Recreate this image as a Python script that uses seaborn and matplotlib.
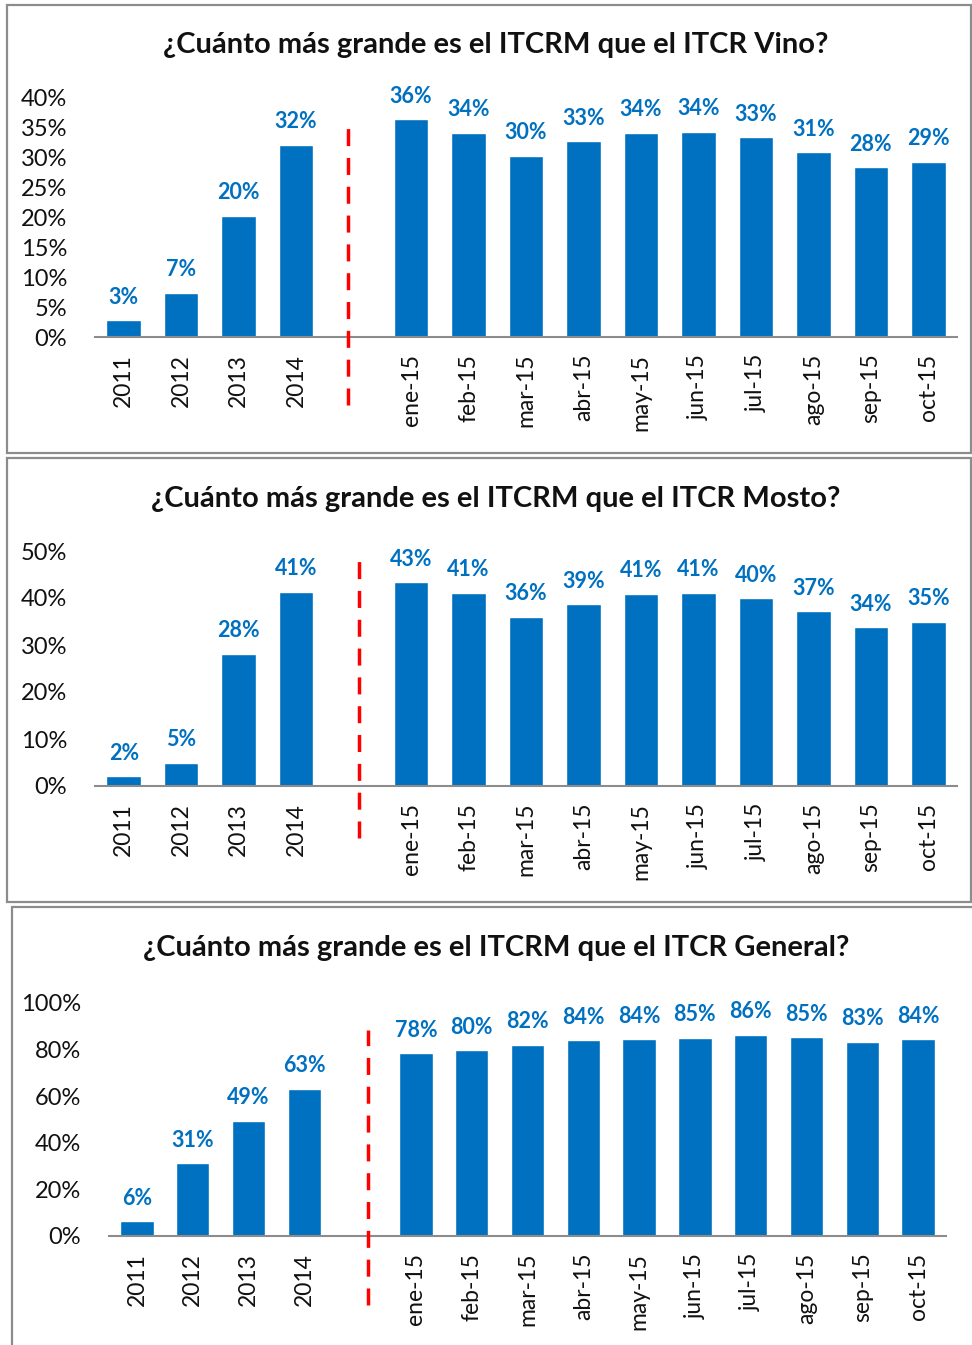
import matplotlib
matplotlib.use("Agg")
import matplotlib.pyplot as plt
from matplotlib.patches import Rectangle
from matplotlib.ticker import PercentFormatter
import seaborn as sns
import pandas as pd

# datos (en %)
periodos = ["2011", "2012", "2013", "2014", "ene-15", "feb-15", "mar-15", "abr-15",
            "may-15", "jun-15", "jul-15", "ago-15", "sep-15", "oct-15"]
vino = [2.8, 7.4, 20.2, 32.0, 36.3, 34.0, 30.2, 32.6, 34.0, 34.2, 33.3, 30.8, 28.3, 29.2]
mosto = [2.1, 4.9, 28.1, 41.3, 43.4, 41.1, 36.0, 38.7, 40.9, 41.1, 40.0, 37.2, 33.8, 34.9]
general = [6.4, 31.3, 49.4, 63.1, 78.4, 79.8, 82.0, 84.1, 84.4, 85.0, 86.4, 85.4, 83.4, 84.4]
titulos = ["¿Cuánto más grande es el ITCRM que el ITCR Vino?",
           "¿Cuánto más grande es el ITCRM que el ITCR Mosto?",
           "¿Cuánto más grande es el ITCRM que el ITCR General?"]

sns.set_style("white")
plt.rcParams['font.family'] = ['Lato', 'DejaVu Sans']

W, H = 972, 1345
fig = plt.figure(figsize=(W / 100, H / 100), dpi=100)

def fx(x):
    return x / W

def fy(y):
    return 1 - y / H

AZUL = "#0070C0"
orden = periodos[:4] + [" "] + periodos[4:]

# cajas de cada panel
for (l, t, r, b) in [(7, 5, 971, 453), (7, 458, 971, 902), (12, 907, 975, 1350)]:
    fig.patches.append(Rectangle((fx(l), fy(b)), fx(r - l), (b - t) / H,
                                 transform=fig.transFigure, fill=False,
                                 edgecolor="#8c8c8c", lw=1.6, zorder=0))

paneles = [
    # datos, titulo, (left, right, top, bottom) px, ymax, ticks, linea (x, y0, y1), titulo_y
    (vino, titulos[0], (95, 957, 97, 337), 40, range(0, 41, 5), (3.9, 35.3, -11.3), 45),
    (mosto, titulos[1], (95, 957, 551, 786), 50, range(0, 51, 10), (4.1, 48, -11), 499),
    (general, titulos[2], (109, 946, 1003, 1236), 100, range(0, 101, 20), (4.15, 88.4, -29.6), 948),
]

for vals, titulo, (l, r, t, b), ymax, ticks, linea, ty in paneles:
    ax = fig.add_axes([fx(l), fy(b), fx(r - l), (b - t) / H])
    df = pd.DataFrame({"periodo": periodos, "valor": vals})
    sns.barplot(data=df, x="periodo", y="valor", order=orden, color=AZUL,
                width=0.6, saturation=1, ax=ax)
    ax.set_xlim(-0.5, len(orden) - 0.5)
    ax.set_ylim(0, ymax)
    ax.set_yticks(list(ticks))
    ax.yaxis.set_major_formatter(PercentFormatter(decimals=0))
    ax.set_xlabel("")
    ax.set_ylabel("")
    for c in ax.containers:
        ax.bar_label(c, fmt="{:.0f}%", padding=9, color=AZUL, fontsize=15.5,
                     fontweight="bold")
    ax.tick_params(axis="x", rotation=90, labelsize=16.5, length=0, pad=12, colors="#111111")
    ax.tick_params(axis="y", labelsize=17, length=0, pad=20, colors="#111111")
    for s in ["top", "right", "left"]:
        ax.spines[s].set_visible(False)
    ax.spines["bottom"].set_color("#8c8c8c")
    ax.spines["bottom"].set_linewidth(1.5)
    # linea roja discontinua
    ax.vlines(linea[0], linea[2], linea[1], colors="#FF0000", lw=2.5,
              linestyles=(0, (4.9, 3.4)), clip_on=False, zorder=5)
    fig.text(0.51, fy(ty), titulo, ha="center", va="center", fontsize=21,
             fontweight="bold", color="#111111")

fig.savefig("out.png", dpi=100)
